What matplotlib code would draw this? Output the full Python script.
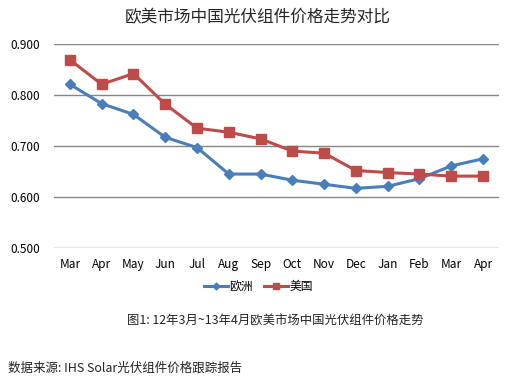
import matplotlib
matplotlib.use("Agg")
import matplotlib.pyplot as plt

plt.rcParams["font.family"] = ["Noto Sans CJK SC", "DejaVu Sans"]

months = ["Mar", "Apr", "May", "Jun", "Jul", "Aug", "Sep", "Oct", "Nov",
          "Dec", "Jan", "Feb", "Mar", "Apr"]
europe = [0.821, 0.783, 0.762, 0.717, 0.697, 0.645, 0.645, 0.633, 0.625,
          0.617, 0.621, 0.636, 0.661, 0.675]
usa = [0.869, 0.821, 0.842, 0.782, 0.735, 0.727, 0.714, 0.690, 0.686,
       0.652, 0.648, 0.645, 0.641, 0.641]
yticks = [0.5, 0.6, 0.7, 0.8, 0.9]

fig = plt.figure(figsize=(5.12, 3.81), dpi=100)
ax = fig.add_axes([0.1055, 0.349, 0.869, 0.5355])

x = list(range(len(months)))
ax.plot(x, europe, color="#4A7EBB", lw=2.2, marker="D", ms=5, label="欧洲")
ax.plot(x, usa, color="#BE4B48", lw=2.2, marker="s", ms=6.5, label="美国")

ax.set_xlim(-0.5, len(months) - 0.5)
ax.set_ylim(0.5, 0.9)
ax.set_yticks(yticks)
ax.set_yticklabels([f"{v:.3f}" for v in yticks])
ax.set_xticks(x)
ax.set_xticklabels(months)
ax.tick_params(length=0, labelsize=8.5, colors="#000000")
ax.tick_params(axis="x", pad=7)
ax.tick_params(axis="y", pad=10)
ax.grid(axis="y", color="#868686", lw=1)
ax.set_axisbelow(True)
for s in ax.spines.values():
    s.set_visible(False)

fig.text(0.504, 0.953, "欧美市场中国光伏组件价格走势对比", ha="center", va="center",
         fontsize=12, color="#262626")

fig.legend(loc="center", bbox_to_anchor=(0.505, 0.247), ncol=2, frameon=False,
           fontsize=8.5, handlelength=2.0, handletextpad=0.1, columnspacing=1.0,
           markerscale=0.7)

fig.text(0.538, 0.157, "图1: 12年3月~13年4月欧美市场中国光伏组件价格走势", ha="center",
         va="center", fontsize=8.9, color="#222222")
fig.text(0.016, 0.034, "数据来源: IHS Solar光伏组件价格跟踪报告", ha="left",
         va="center", fontsize=9, color="#222222")

fig.savefig("out.png", dpi=100)
